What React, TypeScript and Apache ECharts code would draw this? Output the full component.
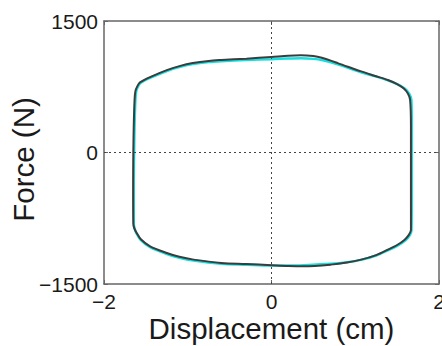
import React, { useEffect, useRef } from "react";
import * as echarts from "echarts";

// Hysteresis loop: displacement (cm), force (N)
const blackLoop: [number, number][] = [
  [-1.65, 0], [-1.645, 300], [-1.635, 600], [-1.625, 700], [-1.6, 760], [-1.57, 800],
  [-1.45, 860], [-1.25, 940], [-1.1, 985], [-0.94, 1020], [-0.75, 1045], [-0.6, 1055],
  [-0.3, 1070], [0, 1090], [0.2, 1105], [0.35, 1110], [0.5, 1100], [0.6, 1080],
  [0.79, 1020], [1.07, 925], [1.25, 870], [1.39, 827], [1.5, 780], [1.58, 730],
  [1.63, 670], [1.655, 600], [1.665, 300], [1.665, 0], [1.665, -500], [1.665, -884],
  [1.64, -940], [1.59, -994], [1.5, -1055], [1.39, -1108], [1.25, -1170], [1.07, -1222],
  [0.9, -1255], [0.71, -1279], [0.39, -1298], [0.2, -1295], [0, -1286], [-0.3, -1272],
  [-0.6, -1260], [-0.93, -1222], [-1.1, -1190], [-1.25, -1146], [-1.45, -1070],
  [-1.56, -990], [-1.61, -918], [-1.64, -860], [-1.65, -804], [-1.652, -400], [-1.65, 0],
];

const cyanLoop: [number, number][] = [
  [-1.64, 0], [-1.635, 300], [-1.625, 600], [-1.615, 700], [-1.59, 760], [-1.56, 795],
  [-1.45, 850], [-1.25, 930], [-1.1, 975], [-0.94, 1008], [-0.75, 1032], [-0.6, 1042],
  [-0.3, 1055], [0, 1065], [0.2, 1072], [0.35, 1075], [0.5, 1068], [0.6, 1055],
  [0.79, 1005], [1.07, 915], [1.25, 865], [1.39, 822], [1.5, 780], [1.59, 730],
  [1.645, 670], [1.67, 600], [1.675, 300], [1.675, 0], [1.675, -500], [1.672, -884],
  [1.65, -945], [1.6, -1000], [1.5, -1065], [1.39, -1115], [1.25, -1175], [1.07, -1225],
  [0.9, -1252], [0.71, -1270], [0.39, -1285], [0.2, -1290], [0, -1290], [-0.3, -1280],
  [-0.6, -1268], [-0.93, -1232], [-1.1, -1200], [-1.25, -1158], [-1.45, -1080],
  [-1.56, -1000], [-1.61, -925], [-1.635, -865], [-1.645, -804], [-1.645, -400], [-1.64, 0],
];

const xRange = { min: -2, max: 2, step: 2 };
const yRange = { min: -1500, max: 1500, step: 1500 };
const xName = "Displacement (cm)";
const yName = "Force (N)";

const FONT = "'Liberation Sans', Arial, Helvetica, sans-serif";
const fmt = (v: number) => (v < 0 ? "\u2212" + Math.abs(v) : String(v));

export default function App() {
  const ref = useRef<HTMLDivElement>(null);
  useEffect(() => {
    if (!ref.current) return;
    const chart = echarts.init(ref.current, null, { renderer: "svg" });
    const axisLine = { show: true, onZero: false, lineStyle: { color: "#666", width: 1.5 } };
    const tick = { show: true, inside: true, length: 4, lineStyle: { color: "#666", width: 1 } };
    chart.setOption({
      animation: false,
      backgroundColor: "#fff",
      grid: { left: 104, top: 21, right: 3, bottom: 62, containLabel: false, outerBoundsMode: "none" },
      xAxis: [
        {
          type: "value", min: xRange.min, max: xRange.max, interval: xRange.step,
          position: "bottom",
          name: xName, nameLocation: "middle", nameGap: 29, nameMoveOverlap: false,
          nameTextStyle: { fontFamily: FONT, fontSize: 29.5, color: "#1a1a1a" },
          axisLine, axisTick: tick, splitLine: { show: false },
          axisLabel: { formatter: fmt, fontFamily: FONT, fontSize: 21, color: "#1a1a1a", margin: 7 },
        },
        {
          type: "value", min: xRange.min, max: xRange.max, interval: xRange.step,
          position: "top", axisLine, axisTick: tick, axisLabel: { show: false }, splitLine: { show: false },
        },
      ],
      yAxis: [
        {
          type: "value", min: yRange.min, max: yRange.max, interval: yRange.step,
          position: "left",
          name: yName, nameLocation: "middle", nameGap: 66, nameMoveOverlap: false,
          nameTextStyle: { fontFamily: FONT, fontSize: 29.5, color: "#1a1a1a", padding: [0, 14, 0, 0] },
          axisLine, axisTick: tick, splitLine: { show: false },
          axisLabel: { formatter: fmt, fontFamily: FONT, fontSize: 21, color: "#1a1a1a", margin: 6 },
        },
        {
          type: "value", min: yRange.min, max: yRange.max, interval: yRange.step,
          position: "right", axisLine, axisTick: tick, axisLabel: { show: false }, splitLine: { show: false },
        },
      ],
      series: [
        {
          type: "line", data: cyanLoop, showSymbol: false, smooth: 0.3,
          lineStyle: { color: "#14e0e0", width: 2.5 },
          markLine: {
            silent: true, symbol: "none", label: { show: false },
            lineStyle: { color: "#444", width: 1, type: [2, 3] },
            data: [{ xAxis: 0 }, { yAxis: 0 }],
          },
        },
        {
          type: "line", data: blackLoop, showSymbol: false, smooth: 0.3,
          lineStyle: { color: "#3c3c3c", width: 2 },
        },
      ],
    });
    return () => chart.dispose();
  }, []);
  return <div ref={ref} style={{ width: 442, height: 346, position: "absolute", left: 0, top: 0 }} />;
}
